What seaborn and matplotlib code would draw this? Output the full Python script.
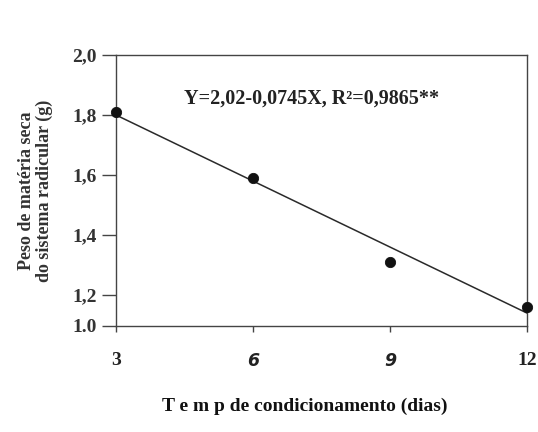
import matplotlib
matplotlib.use("Agg")
import matplotlib.pyplot as plt
import seaborn as sns
import pandas as pd

# Dados
dias = [3, 6, 9, 12]
peso = [1.81, 1.59, 1.31, 1.16]

# reta ajustada (Y=2,02-0,0745X)
reta_x = [3, 12]
reta_y = [1.80, 1.14]

y_ticks = [1.097, 1.2, 1.4, 1.6, 1.8, 2.0]
y_labels = ['1.0', '1,2', '1,4', '1,6', '1,8', '2,0']
x_ticks = [3, 6, 9, 12]
x_labels = ['3', '6', '9', '12']

df = pd.DataFrame({'dias': dias, 'peso': peso})
df_reta = pd.DataFrame({'x': reta_x, 'y': reta_y})

sns.set_style("ticks")
plt.rcParams['font.family'] = ['Liberation Serif', 'DejaVu Serif']

fig = plt.figure(figsize=(5.38, 4.32), dpi=100)
ax = fig.add_axes([0.2156, 0.2454, 0.764, 0.6273])

sns.lineplot(data=df_reta, x='x', y='y', color='#2a2a2a', linewidth=1.1, ax=ax)
sns.scatterplot(data=df, x='dias', y='peso', color='#111111', s=55,
                edgecolor='#111111', zorder=5, clip_on=False, ax=ax)

ax.set_xlim(3, 12)
ax.set_ylim(1.097, 2.0)
ax.set_yticks(y_ticks)
ax.set_yticklabels(y_labels, fontsize=14, fontweight='bold', color='#333333')
ax.set_xticks(x_ticks)
ax.set_xticklabels(x_labels, fontsize=14, fontweight='bold', color='#222222')
for lbl in ax.get_xticklabels()[1:3]:
    lbl.set_family('DejaVu Sans')
    lbl.set_style('italic')
    lbl.set_fontsize(12.5)

ax.tick_params(axis='y', direction='out', length=10, width=1, color='#444444', pad=4)
ax.tick_params(axis='x', direction='out', length=4, width=1, color='#444444', pad=15)

for side in ['left', 'right', 'top', 'bottom']:
    ax.spines[side].set_visible(True)
    ax.spines[side].set_color('#444444')
    ax.spines[side].set_linewidth(1.0)

ax.set_ylabel('Peso de matéria seca\ndo sistema radicular (g)', fontsize=13,
              fontweight='bold', color='#333333', labelpad=14, linespacing=1.05)
ax.set_xlabel('T e m p de condicionamento (dias)', fontsize=14,
              fontweight='bold', color='#111111')
ax.xaxis.set_label_coords(0.46, -0.265)

ax.text(0.475, 0.84, 'Y=2,02-0,0745X, R²=0,9865**', transform=ax.transAxes,
        ha='center', va='center', fontsize=14.5, fontweight='bold', color='#222222')

fig.savefig('out.png', dpi=100, facecolor='white')
